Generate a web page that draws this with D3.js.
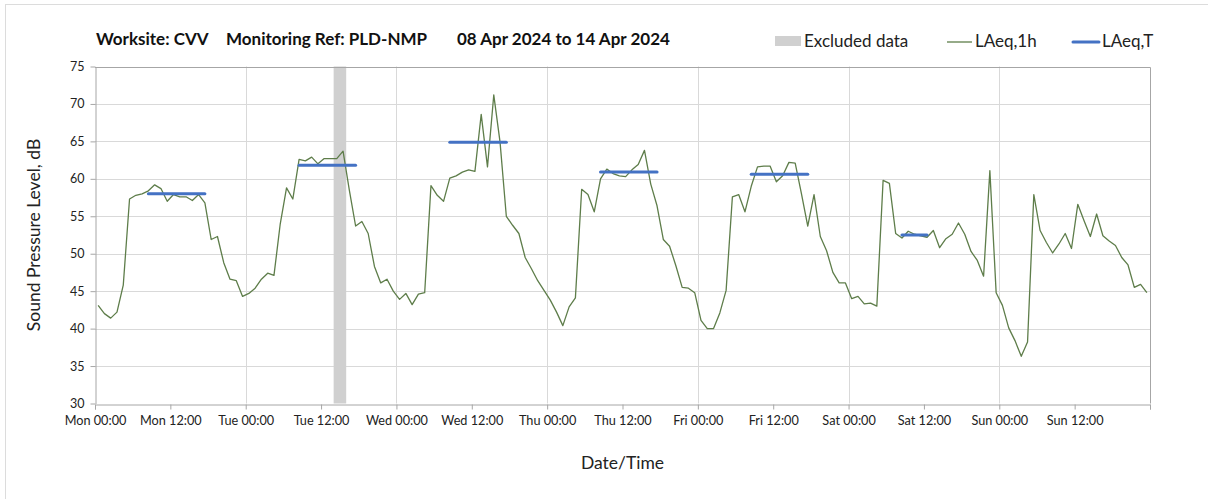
<!DOCTYPE html>
<html>
<head>
<meta charset="utf-8">
<script src="https://cdn.jsdelivr.net/npm/d3@7"></script>
<style>
  html, body { margin: 0; padding: 0; background: #fff; }
  svg { display: block; font-family: Lato, "Open Sans", sans-serif; }
</style>
</head>
<body>
<svg id="chart" width="1208" height="499"></svg>
<script>
// ---------- data ----------
const startDate = new Date(2024, 3, 8, 0, 0);   // Mon 08 Apr 2024 00:00
const endDate   = new Date(2024, 3, 15, 0, 0);  // Mon 15 Apr 2024 00:00

// hourly LAeq,1h values (dB), one per hour from Mon 00:00
const laeq1h = [
  43.1, 42.0, 41.4, 42.2, 45.8, 57.3, 57.8, 58.0, 58.4, 59.2, 58.7, 57.0, 57.9, 57.6, 57.6, 57.1, 57.9, 56.8, 51.9, 52.3, 48.8, 46.6, 46.4, 44.3,
  44.7, 45.4, 46.6, 47.4, 47.1, 54.0, 58.8, 57.3, 62.6, 62.4, 62.9, 62.0, 62.7, 62.7, 62.7, 63.7, 58.5, 53.7, 54.3, 52.7, 48.3, 46.1, 46.6, 45.0,
  43.9, 44.7, 43.2, 44.6, 44.8, 59.1, 57.8, 57.0, 60.1, 60.4, 60.9, 61.2, 61.0, 68.6, 61.6, 71.2, 64.9, 55.0, 53.8, 52.7, 49.5, 48.0, 46.4, 45.1,
  43.8, 42.2, 40.4, 42.9, 44.1, 58.6, 57.9, 55.6, 60.0, 61.3, 60.7, 60.4, 60.3, 61.2, 61.9, 63.8, 59.3, 56.4, 51.9, 51.0, 48.4, 45.5, 45.4, 44.8,
  41.1, 40.0, 40.0, 42.1, 45.1, 57.6, 57.9, 55.6, 59.0, 61.6, 61.7, 61.7, 59.6, 60.4, 62.2, 62.1, 58.0, 53.7, 57.9, 52.3, 50.4, 47.5, 46.1, 46.1,
  44.0, 44.3, 43.3, 43.4, 43.0, 59.8, 59.4, 52.7, 52.1, 53.0, 52.6, 52.4, 52.2, 53.1, 50.8, 52.0, 52.6, 54.1, 52.6, 50.3, 49.1, 47.0, 61.1, 44.8,
  43.1, 40.1, 38.4, 36.3, 38.2, 57.9, 53.1, 51.5, 50.1, 51.3, 52.7, 50.7, 56.6, 54.4, 52.3, 55.3, 52.4, 51.7, 51.1, 49.5, 48.5, 45.5, 45.9, 44.8
];

// LAeq,T period values: start hour / end hour (from Mon 00:00) and level
const laeqTStart = [8.5, 32.5, 56.5, 80.5, 104.5, 128.5];
const laeqTEnd   = [17.5, 41.5, 65.5, 89.5, 113.5, 132.5];
const laeqTValue = [58.0, 61.8, 64.9, 60.9, 60.6, 52.5];

// excluded data period (hours from Mon 00:00)
const excludedStart = [38];
const excludedEnd   = [40];

const yTicks = [30, 35, 40, 45, 50, 55, 60, 65, 70, 75];
const titleParts = ["Worksite: CVV", "Monitoring Ref: PLD-NMP", "08 Apr 2024 to 14 Apr 2024"];
const legendLabels = ["Excluded data", "LAeq,1h", "LAeq,T"];

// ---------- layout ----------
const svg = d3.select("#chart");
const L = 95, R = 1150, T = 66.5, B = 403.5;
const hourMs = 3600 * 1000;
const toDate = h => new Date(startDate.getTime() + h * hourMs);

const x = d3.scaleTime().domain([startDate, endDate]).range([L, R]);
const y = d3.scaleLinear().domain([30, 75]).range([B, T]);

// outer border
svg.append("rect").attr("x", 5.5).attr("y", 4.5).attr("width", 1300).attr("height", 600)
  .attr("fill", "none").attr("stroke", "#dcdcdc");

// horizontal gridlines
svg.append("g").selectAll("line").data(yTicks.filter(v => v > 30)).join("line")
  .attr("x1", L).attr("x2", R)
  .attr("y1", d => Math.round(y(d)) + 0.5).attr("y2", d => Math.round(y(d)) + 0.5)
  .attr("stroke", "#d9d9d9").attr("stroke-width", 1);

// vertical gridlines at day boundaries
const dayTicks = d3.timeDay.range(d3.timeDay.offset(startDate, 1), endDate);
svg.append("g").selectAll("line").data(dayTicks).join("line")
  .attr("x1", d => Math.round(x(d)) + 0.5).attr("x2", d => Math.round(x(d)) + 0.5)
  .attr("y1", T).attr("y2", B)
  .attr("stroke", "#d9d9d9").attr("stroke-width", 1);

// excluded band
svg.append("g").selectAll("rect").data(excludedStart).join("rect")
  .attr("x", (d) => x(toDate(d)))
  .attr("width", (d, i) => x(toDate(excludedEnd[i])) - x(toDate(d)))
  .attr("y", T).attr("height", B - T)
  .attr("fill", "#d0d0d0");

// plot frame (top & right)
svg.append("path")
  .attr("d", `M${L},${Math.round(T) + 0.5}H${R + 0.5}V${B}`)
  .attr("fill", "none").attr("stroke", "#a6a6a6");

// x axis
const xAxis = d3.axisBottom(x)
  .ticks(d3.timeHour.every(12))
  .tickFormat(d => d.getTime() >= endDate.getTime() ? "" : d3.timeFormat("%a %H:%M")(d))
  .tickSize(5).tickPadding(6);
const gx = svg.append("g").attr("transform", `translate(0,${Math.round(B) + 0.5})`).call(xAxis);
gx.select(".domain").attr("stroke", "#a6a6a6");
gx.selectAll(".tick line").attr("stroke", "#a6a6a6");
gx.selectAll("text").attr("font-size", 12.7).attr("fill", "#222").attr("font-family", "Lato, sans-serif");

// y axis
const yAxis = d3.axisLeft(y).tickValues(yTicks).tickSize(5).tickPadding(6).tickSizeOuter(0);
const gy = svg.append("g").attr("transform", `translate(${L + 0.5},0)`).call(yAxis);
gy.select(".domain").attr("stroke", "#a6a6a6");
gy.selectAll(".tick line").attr("stroke", "#a6a6a6");
gy.selectAll("text").attr("font-size", 12.5).attr("fill", "#222").attr("font-family", "Lato, sans-serif");

// LAeq,1h line
const line = d3.line()
  .x((d, i) => x(toDate(i + 0.5)))
  .y(d => y(d));
svg.append("path").datum(laeq1h)
  .attr("d", line)
  .attr("fill", "none").attr("stroke", "#5e7d4a").attr("stroke-width", 1.3)
  .attr("stroke-linejoin", "round");

// LAeq,T segments
svg.append("g").selectAll("line").data(laeqTValue).join("line")
  .attr("x1", (d, i) => x(toDate(laeqTStart[i])))
  .attr("x2", (d, i) => x(toDate(laeqTEnd[i])))
  .attr("y1", d => y(d)).attr("y2", d => y(d))
  .attr("stroke", "#4472c4").attr("stroke-width", 3).attr("stroke-linecap", "round");

// axis titles
svg.append("text").attr("x", (L + R) / 2).attr("y", 469)
  .attr("text-anchor", "middle").attr("font-size", 17.5).attr("fill", "#222")
  .text("Date/Time");
svg.append("text")
  .attr("transform", `translate(40,${(T + B) / 2}) rotate(-90)`)
  .attr("text-anchor", "middle").attr("font-size", 17.5).attr("fill", "#222")
  .text("Sound Pressure Level, dB");

// title
const titleX = [96, 226, 457];
svg.append("g").selectAll("text").data(titleParts).join("text")
  .attr("x", (d, i) => titleX[i]).attr("y", 45)
  .attr("font-size", 17).attr("font-weight", "bold").attr("fill", "#111")
  .text(d => d);

// legend
const lg = svg.append("g");
lg.append("rect").attr("x", 775).attr("y", 36).attr("width", 26).attr("height", 10).attr("fill", "#d0d0d0");
lg.append("text").attr("x", 804).attr("y", 47).attr("font-size", 17).attr("fill", "#222").text(legendLabels[0]);
lg.append("line").attr("x1", 947).attr("x2", 972).attr("y1", 42).attr("y2", 42)
  .attr("stroke", "#5e7d4a").attr("stroke-width", 1.3);
lg.append("text").attr("x", 975).attr("y", 47).attr("font-size", 17).attr("fill", "#222").text(legendLabels[1]);
lg.append("line").attr("x1", 1073).attr("x2", 1099).attr("y1", 42).attr("y2", 42)
  .attr("stroke", "#4472c4").attr("stroke-width", 3).attr("stroke-linecap", "round");
lg.append("text").attr("x", 1102).attr("y", 47).attr("font-size", 17).attr("fill", "#222").text(legendLabels[2]);
</script>
</body>
</html>
